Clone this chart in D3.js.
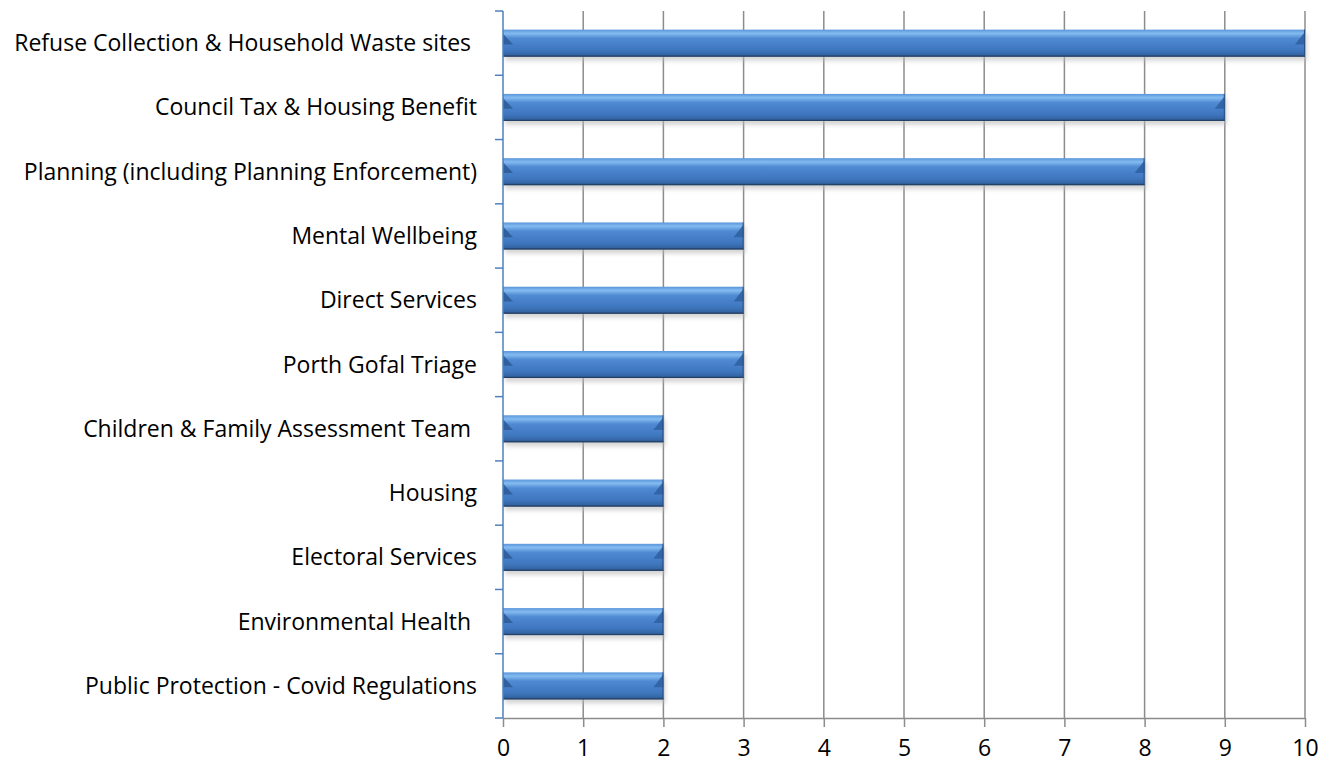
<!DOCTYPE html>
<html>
<head>
<meta charset="utf-8">
<script src="https://cdn.jsdelivr.net/npm/d3@7"></script>
<style>
  body { margin: 0; background: #fff; }
  text { font-family: "Open Sans", sans-serif; white-space: pre; }
</style>
</head>
<body>
<div id="chart"></div>
<script>
var categories = [
  "Refuse Collection & Household Waste sites ",
  "Council Tax & Housing Benefit",
  "Planning (including Planning Enforcement)",
  "Mental Wellbeing",
  "Direct Services",
  "Porth Gofal Triage",
  "Children & Family Assessment Team ",
  "Housing",
  "Electoral Services",
  "Environmental Health ",
  "Public Protection - Covid Regulations"
];
var values = [10, 9, 8, 3, 3, 3, 2, 2, 2, 2, 2];
var xTicks = [0, 1, 2, 3, 4, 5, 6, 7, 8, 9, 10];

var W = 1331, H = 763;
var margin = {top: 11, right: 26, bottom: 45, left: 503};
var fontSize = 23;

var x_scale = d3.scaleLinear().domain([0, 10]).range([margin.left, W - margin.right]);
var y_scale = d3.scaleBand().domain(categories)
    .range([margin.top, H - margin.bottom])
    .paddingInner(0.58).paddingOuter(0.29);

var svg = d3.select("#chart").append("svg")
    .attr("width", W).attr("height", H);

var defs = svg.append("defs");
var grad = defs.append("linearGradient").attr("id", "barGrad")
    .attr("x1", 0).attr("y1", 0).attr("x2", 0).attr("y2", 1);
grad.append("stop").attr("offset", "0%").attr("stop-color", "#5a96dc");
grad.append("stop").attr("offset", "14%").attr("stop-color", "#84bbf0");
grad.append("stop").attr("offset", "32%").attr("stop-color", "#4f8ad3");
grad.append("stop").attr("offset", "75%").attr("stop-color", "#3f77bf");
grad.append("stop").attr("offset", "92%").attr("stop-color", "#3466a6");
grad.append("stop").attr("offset", "100%").attr("stop-color", "#264870");

var blur = defs.append("filter").attr("id", "shadow")
    .attr("x", "-5%").attr("y", "-50%").attr("width", "110%").attr("height", "200%");
blur.append("feGaussianBlur").attr("stdDeviation", 2);

var bottom = H - margin.bottom;

// gridlines
svg.append("g").selectAll("line").data(xTicks.slice(1)).join("line")
    .attr("x1", d => x_scale(d)).attr("x2", d => x_scale(d))
    .attr("y1", margin.top).attr("y2", bottom)
    .attr("stroke", "#8c8c8c").attr("stroke-width", 1.5);

// x axis
var xAxis = svg.append("g")
    .attr("transform", "translate(0," + bottom + ")")
    .call(d3.axisBottom(x_scale).tickValues(xTicks).tickSize(9).tickPadding(13).tickSizeOuter(0));
xAxis.select(".domain").attr("stroke", "#8c8c8c").attr("stroke-width", 1.5);
xAxis.selectAll(".tick line").attr("stroke", "#8c8c8c").attr("stroke-width", 1.5);
xAxis.selectAll(".tick text").attr("font-size", fontSize).attr("fill", "#000")
    .style("font-family", "'Open Sans', sans-serif");

// bars
var step = y_scale.step();
var bh = y_scale.bandwidth();
var bars = svg.append("g").selectAll("g").data(categories).join("g");

bars.append("rect")
    .attr("x", x_scale(0) + 2).attr("y", d => y_scale(d) + 4)
    .attr("width", (d, i) => x_scale(values[i]) - x_scale(0))
    .attr("height", bh)
    .attr("fill", "#b8b8b8").attr("opacity", 0.6)
    .attr("filter", "url(#shadow)");

bars.append("rect")
    .attr("x", x_scale(0)).attr("y", d => y_scale(d))
    .attr("width", (d, i) => x_scale(values[i]) - x_scale(0))
    .attr("height", bh)
    .attr("fill", "url(#barGrad)");

// left bevel
bars.append("path")
    .attr("d", function(d) {
      var x0 = x_scale(0), y0 = y_scale(d);
      return "M" + x0 + "," + (y0 + 4) + "L" + (x0 + 10) + "," + (y0 + bh * 0.55) +
             "L" + x0 + "," + (y0 + bh * 0.55) + "Z";
    })
    .attr("fill", "#2d5c99").attr("opacity", 0.9);

// right bevel
bars.append("path")
    .attr("d", function(d, i) {
      var x1 = x_scale(values[i]), y0 = y_scale(d);
      return "M" + x1 + "," + (y0 + 2) + "L" + (x1 - 10) + "," + (y0 + bh * 0.55) +
             "L" + x1 + "," + (y0 + bh * 0.55) + "Z";
    })
    .attr("fill", "#2f62a3").attr("opacity", 0.9);

// bar dark edges
bars.append("line")
    .attr("x1", x_scale(0)).attr("x2", (d, i) => x_scale(values[i]))
    .attr("y1", d => y_scale(d) + bh - 0.5).attr("y2", d => y_scale(d) + bh - 0.5)
    .attr("stroke", "#233f63").attr("stroke-width", 1);

bars.append("line")
    .attr("x1", (d, i) => x_scale(values[i]) - 0.5).attr("x2", (d, i) => x_scale(values[i]) - 0.5)
    .attr("y1", d => y_scale(d)).attr("y2", d => y_scale(d) + bh)
    .attr("stroke", "#2a4f80").attr("stroke-width", 1);

// y axis (category boundaries)
var yAxis = svg.append("g");
yAxis.append("line")
    .attr("x1", x_scale(0)).attr("x2", x_scale(0))
    .attr("y1", margin.top).attr("y2", bottom)
    .attr("stroke", "#4f81bd").attr("stroke-width", 1.5);
yAxis.selectAll(".tk").data(d3.range(categories.length + 1)).join("line")
    .attr("class", "tk")
    .attr("x1", x_scale(0) - 8).attr("x2", x_scale(0))
    .attr("y1", i => margin.top + i * step).attr("y2", i => margin.top + i * step)
    .attr("stroke", "#4f81bd").attr("stroke-width", 1.5);

// category labels
var labels = svg.append("g").selectAll("text").data(categories).join("text")
    .attr("x", x_scale(0) - 26)
    .attr("y", d => y_scale(d) + bh / 2)
    .attr("dy", "0.35em")
    .attr("text-anchor", "end")
    .attr("font-size", fontSize)
    .attr("fill", "#000")
    .text(d => d);

labels.each(function() {
  var b = this.getBBox();
  if (b.x < 8) {
    d3.select(this).attr("text-anchor", "start").attr("x", 8);
  }
});
</script>
</body>
</html>
